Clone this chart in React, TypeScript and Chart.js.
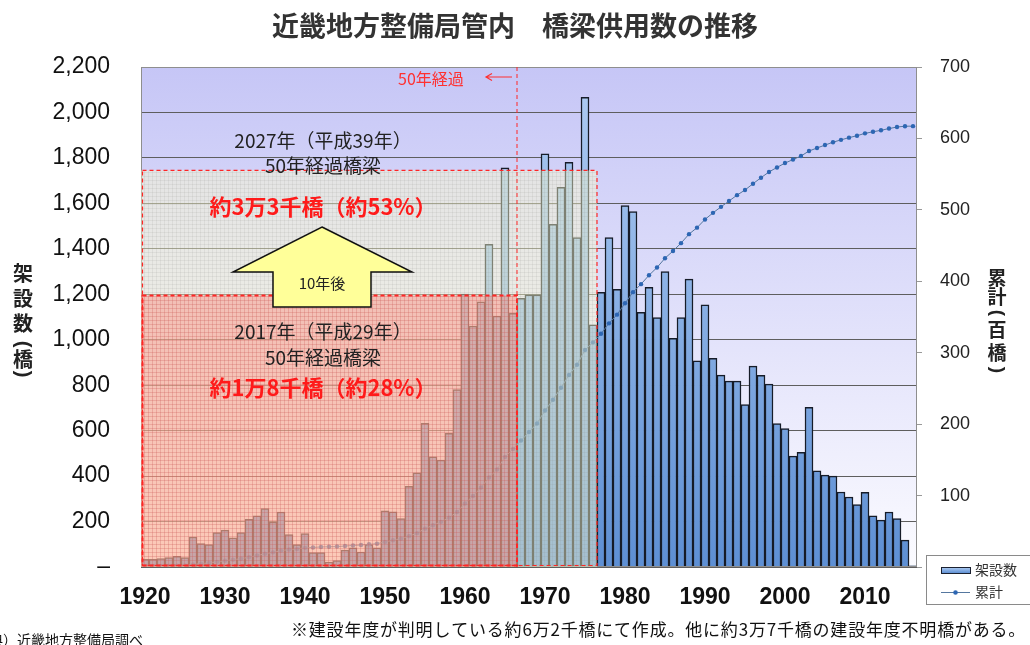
import React, { useEffect, useRef } from 'react';
import { Chart, registerables } from 'chart.js';

Chart.register(...registerables);

// ---- data ----
const YEARS = [
  1920, 1921, 1922, 1923, 1924, 1925, 1926, 1927, 1928, 1929,
  1930, 1931, 1932, 1933, 1934, 1935, 1936, 1937, 1938, 1939,
  1940, 1941, 1942, 1943, 1944, 1945, 1946, 1947, 1948, 1949,
  1950, 1951, 1952, 1953, 1954, 1955, 1956, 1957, 1958, 1959,
  1960, 1961, 1962, 1963, 1964, 1965, 1966, 1967, 1968, 1969,
  1970, 1971, 1972, 1973, 1974, 1975, 1976, 1977, 1978, 1979,
  1980, 1981, 1982, 1983, 1984, 1985, 1986, 1987, 1988, 1989,
  1990, 1991, 1992, 1993, 1994, 1995, 1996, 1997, 1998, 1999,
  2000, 2001, 2002, 2003, 2004, 2005, 2006, 2007, 2008, 2009,
  2010, 2011, 2012, 2013, 2014, 2015, 2016,
];

// 架設数（橋）
const BRIDGES_BUILT = [
  34, 34, 37, 41, 47, 41, 132, 103, 99, 151,
  162, 128, 151, 210, 225, 257, 198, 242, 143, 99,
  147, 63, 63, 22, 28, 74, 84, 66, 99, 84,
  247, 243, 213, 355, 414, 632, 485, 470, 588, 781,
  1201, 1060, 1167, 1420, 1104, 1756, 1116, 1182, 1197, 1197,
  1818, 1508, 1670, 1781, 1449, 2066, 1065, 1209, 1449, 1222,
  1590, 1564, 1121, 1231, 1097, 1300, 1006, 1097, 1267, 907,
  1153, 918, 844, 818, 818, 715, 884, 843, 805, 631,
  609, 488, 504, 702, 423, 404, 400, 330, 308, 275,
  328, 225, 206, 242, 213, 118, 5,
];

// 累計（百橋）
const CUMULATIVE_HUNDREDS = [
  0.3, 0.7, 1.1, 1.5, 1.9, 2.3, 3.7, 4.7, 5.7, 7.2,
  8.8, 10.1, 11.6, 13.7, 16.0, 18.5, 20.5, 22.9, 24.4, 25.3,
  26.8, 27.4, 28.1, 28.3, 28.6, 29.3, 30.2, 30.8, 31.8, 32.6,
  35.1, 37.5, 39.7, 43.2, 47.4, 53.7, 58.5, 63.2, 69.1, 76.9,
  88.9, 99.5, 111.2, 125.4, 136.4, 154.0, 165.2, 177.0, 188.9, 200.9,
  219.1, 234.2, 250.9, 268.7, 283.2, 303.8, 314.5, 326.6, 341.1, 353.3,
  369.2, 384.8, 396.0, 408.4, 419.3, 432.3, 442.4, 453.4, 466.0, 475.1,
  486.6, 495.8, 504.2, 512.4, 520.6, 527.8, 536.6, 545.0, 553.1, 559.4,
  565.5, 570.4, 575.4, 582.4, 586.6, 590.7, 594.7, 598.0, 601.1, 603.8,
  607.1, 609.3, 611.4, 613.8, 616.0, 617.1, 617.2,
];

const LEFT_MAX = 2200;
const LEFT_STEP = 200;
const RIGHT_MAX = 700;
const RIGHT_STEP = 100;

// annotation boxes (in data units)
const FIRST_YEAR_PAST_50_IN_2017 = 1967;
const FIRST_YEAR_PAST_50_IN_2027 = 1977;
const BOX_2017_TOP = 1195;
const BOX_2027_TOP = 1745;

const TITLE = '近畿地方整備局管内　橋梁供用数の推移';
const NOTE = '※建設年度が判明している約6万2千橋にて作成。他に約3万7千橋の建設年度不明橋がある。';
const SOURCE = '（出典）近畿地方整備局調べ';

const JP = "'Noto Sans CJK JP', 'Noto Sans', sans-serif";
const NUM = "'Liberation Sans', Arial, sans-serif";

function makePattern(ctx: CanvasRenderingContext2D, color: string) {
  const c = document.createElement('canvas');
  c.width = 4;
  c.height = 4;
  const p = c.getContext('2d')!;
  p.fillStyle = color;
  p.fillRect(0, 0, 4, 1);
  p.fillRect(0, 0, 1, 4);
  return ctx.createPattern(c, 'repeat');
}

function fitText(ctx: any, text: string, x: number, y: number, width: number) {
  ctx.letterSpacing = '0px';
  const w = ctx.measureText(text).width;
  const sp = (width - w) / text.length;
  ctx.letterSpacing = sp.toFixed(2) + 'px';
  ctx.fillText(text, x, y);
  ctx.letterSpacing = '0px';
}

function vertical(ctx: CanvasRenderingContext2D, items: [string, number][], x: number, font: string, color: string) {
  ctx.save();
  ctx.fillStyle = color;
  ctx.textAlign = 'center';
  ctx.textBaseline = 'middle';
  for (const [ch, y] of items) {
    if (ch === '(' || ch === ')') {
      ctx.save();
      ctx.translate(x, y);
      ctx.rotate(Math.PI / 2);
      ctx.font = font.replace(JP, NUM);
      ctx.fillText(ch, 0, 0);
      ctx.restore();
    } else {
      ctx.font = font;
      ctx.fillText(ch, x, y);
    }
  }
  ctx.restore();
}

const bgPlugin = {
  id: 'plotBg',
  beforeDraw(chart: any) {
    const { ctx, chartArea: a } = chart;
    const g = ctx.createLinearGradient(0, a.top, 0, a.bottom);
    g.addColorStop(0, '#c6c6f6');
    g.addColorStop(1, '#fbfbff');
    ctx.save();
    ctx.fillStyle = g;
    ctx.fillRect(a.left, a.top, a.right - a.left, a.bottom - a.top);
    ctx.restore();
  },
};

const overlayPlugin = {
  id: 'overlays',
  afterDatasetsDraw(chart: any) {
    const { ctx, chartArea: a, scales } = chart;
    const xs = scales.x;
    const ys = scales.y;
    const slot = (a.right - a.left) / YEARS.length;
    const edge = (yr: number) => xs.getPixelForValue(YEARS.indexOf(yr)) - slot / 2;
    const redR = edge(FIRST_YEAR_PAST_50_IN_2017);
    const grayR = edge(FIRST_YEAR_PAST_50_IN_2027);
    const redT = ys.getPixelForValue(BOX_2017_TOP);
    const grayT = ys.getPixelForValue(BOX_2027_TOP);

    ctx.save();
    // plot border
    ctx.strokeStyle = '#8e8e8e';
    ctx.lineWidth = 1;
    ctx.strokeRect(a.left + 0.5, a.top + 0.5, a.right - a.left - 1, a.bottom - a.top - 1);

    // gray box (2027)
    ctx.fillStyle = 'rgba(250,250,205,0.45)';
    ctx.fillRect(a.left, grayT, grayR - a.left, a.bottom - grayT);
    const gp = makePattern(ctx, 'rgba(140,140,130,0.12)');
    if (gp) {
      ctx.fillStyle = gp;
      ctx.fillRect(a.left, grayT, grayR - a.left, a.bottom - grayT);
    }
    // red box (2017)
    ctx.fillStyle = 'rgba(255,120,105,0.38)';
    ctx.fillRect(a.left, redT, redR - a.left, a.bottom - redT);
    const rp = makePattern(ctx, 'rgba(215,70,70,0.18)');
    if (rp) {
      ctx.fillStyle = rp;
      ctx.fillRect(a.left, redT, redR - a.left, a.bottom - redT);
    }

    // dashed borders
    ctx.strokeStyle = '#ff2626';
    ctx.setLineDash([4, 3]);
    ctx.lineWidth = 1.2;
    ctx.strokeRect(a.left + 1.5, grayT, grayR - a.left - 1.5, a.bottom - grayT - 1.5);
    ctx.lineWidth = 2;
    ctx.strokeRect(a.left + 1.5, redT, redR - a.left - 1.5, a.bottom - redT - 1.5);
    // 50-year line
    ctx.lineWidth = 1;
    ctx.beginPath();
    ctx.moveTo(redR, a.top);
    ctx.lineTo(redR, a.bottom);
    ctx.stroke();
    ctx.setLineDash([]);
    ctx.restore();
  },
  afterDraw(chart: any) {
    const { ctx } = chart;
    ctx.save();
    // title
    ctx.fillStyle = '#333';
    ctx.textAlign = 'center';
    ctx.textBaseline = 'middle';
    ctx.font = `bold 27px ${JP}`;
    ctx.fillText(TITLE, 515, 26);

    // axis titles
    vertical(ctx, [['架', 273], ['設', 298], ['数', 323], ['(', 344], ['橋', 359], [')', 374]], 23, `bold 20px ${JP}`, '#222');
    vertical(ctx, [['累', 278], ['計', 297], ['(', 313], ['百', 330], ['橋', 353], [')', 370]], 997, `bold 19px ${JP}`, '#222');

    // 50年経過 marker
    ctx.fillStyle = '#ff3030';
    ctx.font = `16px ${JP}`;
    ctx.textAlign = 'left';
    ctx.fillText('50年経過', 398, 79);
    ctx.strokeStyle = '#ff3030';
    ctx.lineWidth = 1.2;
    ctx.beginPath();
    ctx.moveTo(512, 77);
    ctx.lineTo(486, 77);
    ctx.moveTo(492, 73.5);
    ctx.lineTo(486, 77);
    ctx.lineTo(492, 80.5);
    ctx.stroke();

    // annotations
    ctx.textAlign = 'center';
    ctx.fillStyle = '#222';
    ctx.font = `19px ${JP}`;
    ctx.fillText('2027年（平成39年）', 323, 141);
    ctx.fillText('50年経過橋梁', 323, 166);
    ctx.fillText('2017年（平成29年）', 323, 332);
    ctx.fillText('50年経過橋梁', 323, 358);
    ctx.fillStyle = '#ff1a1a';
    ctx.font = `bold 22px ${JP}`;
    ctx.fillText('約3万3千橋（約53%）', 323, 207);
    ctx.fillText('約1万8千橋（約28%）', 323, 388);

    // arrow
    ctx.beginPath();
    ctx.moveTo(322, 227);
    ctx.lineTo(412, 272);
    ctx.lineTo(371, 272);
    ctx.lineTo(371, 307);
    ctx.lineTo(273, 307);
    ctx.lineTo(273, 272);
    ctx.lineTo(233, 272);
    ctx.closePath();
    ctx.fillStyle = '#ffff99';
    ctx.fill();
    ctx.strokeStyle = '#111';
    ctx.lineWidth = 1.5;
    ctx.stroke();
    ctx.fillStyle = '#222';
    ctx.font = `15px ${JP}`;
    ctx.fillText('10年後', 322, 283);

    // legend
    ctx.fillStyle = '#ffffff';
    ctx.fillRect(926, 555, 110, 49);
    ctx.strokeStyle = '#8a8a8a';
    ctx.lineWidth = 1;
    ctx.strokeRect(926.5, 555.5, 110, 49);
    const lg = ctx.createLinearGradient(0, 567, 0, 573);
    lg.addColorStop(0, '#b4d0f4');
    lg.addColorStop(1, '#5f90d4');
    ctx.fillStyle = lg;
    ctx.fillRect(941, 567, 29, 6);
    ctx.strokeStyle = '#1b2130';
    ctx.strokeRect(941.5, 567.5, 29, 6);
    ctx.strokeStyle = '#55779f';
    ctx.beginPath();
    ctx.moveTo(941, 592.5);
    ctx.lineTo(970, 592.5);
    ctx.stroke();
    ctx.fillStyle = '#2d66b3';
    ctx.beginPath();
    ctx.arc(955.5, 592.5, 2.3, 0, Math.PI * 2);
    ctx.fill();
    ctx.fillStyle = '#333';
    ctx.font = `14px ${JP}`;
    ctx.textAlign = 'left';
    ctx.fillText('架設数', 975, 570);
    ctx.fillText('累計', 975, 592);

    // footers
    ctx.fillStyle = '#111';
    ctx.font = `17px ${JP}`;
    ctx.textAlign = 'left';
    fitText(ctx, NOTE, 291, 630, 735);
    ctx.font = `14px ${JP}`;
    const w3 = ctx.measureText('（出典').width;
    ctx.fillText(SOURCE, 3 - w3, 640);
    ctx.restore();
  },
};

export default function App() {
  const ref = useRef<HTMLCanvasElement | null>(null);

  useEffect(() => {
    document.body.style.margin = '0';
    const canvas = ref.current;
    if (!canvas) return;
    const chart = new Chart(canvas, {
      type: 'bar',
      data: {
        labels: YEARS.map(String),
        datasets: [
          {
            type: 'line',
            label: '累計',
            data: CUMULATIVE_HUNDREDS,
            yAxisID: 'y2',
            borderColor: '#55779f',
            borderWidth: 1,
            pointRadius: 2.2,
            pointBackgroundColor: '#2d66b3',
            pointBorderWidth: 0,
            tension: 0,
            order: 0,
          } as any,
          {
            type: 'bar',
            label: '架設数',
            data: BRIDGES_BUILT,
            yAxisID: 'y',
            backgroundColor: (c: any) => {
              const ca = c.chart.chartArea;
              if (!ca) return '#8db3e2';
              const g = c.chart.ctx.createLinearGradient(0, ca.top, 0, ca.bottom);
              g.addColorStop(0, '#b0cdf3');
              g.addColorStop(1, '#5d8fd4');
              return g;
            },
            borderColor: '#161c28',
            borderWidth: { top: 1.5, left: 1.5, right: 1.5, bottom: 0 },
            barPercentage: 1,
            categoryPercentage: 1,
            order: 1,
          } as any,
        ],
      },
      options: {
        responsive: false,
        animation: false,
        devicePixelRatio: 1,
        layout: { padding: { top: 67, left: 0, right: 0, bottom: 0 } },
        plugins: {
          legend: { display: false },
          tooltip: { enabled: false },
          title: { display: false },
        },
        scales: {
          x: {
            type: 'category',
            offset: true,
            grid: { display: false, drawTicks: false },
            border: { display: false },
            ticks: {
              autoSkip: false,
              maxRotation: 0,
              minRotation: 0,
              padding: 17,
              color: '#111',
              font: { family: NUM, size: 23, weight: 'bold' },
              callback: (_v: any, i: number) => (YEARS[i] % 10 === 0 ? String(YEARS[i]) : ''),
            },
            afterFit: (s: any) => {
              s.height = 78;
            },
          },
          y: {
            position: 'left',
            min: 0,
            max: LEFT_MAX,
            grid: { color: '#5e5e5e', drawTicks: false },
            border: { display: false },
            ticks: {
              stepSize: LEFT_STEP,
              padding: 31,
              color: '#111',
              font: { family: NUM, size: 23 },
              callback: (v: any) => (v === 0 ? '–' : Number(v).toLocaleString('en-US')),
            },
            afterFit: (s: any) => {
              s.width = 141;
            },
          },
          y2: {
            position: 'right',
            min: 0,
            max: RIGHT_MAX,
            grid: { drawOnChartArea: false, drawTicks: true, tickLength: 5, tickColor: '#999' },
            border: { display: false },
            ticks: {
              stepSize: RIGHT_STEP,
              padding: 18,
              color: '#222',
              font: { family: NUM, size: 18 },
              callback: (v: any) => (v === 0 ? '' : String(v)),
            },
            afterFit: (s: any) => {
              s.width = 113;
            },
          },
        },
      } as any,
      plugins: [bgPlugin, overlayPlugin],
    });
    return () => chart.destroy();
  }, []);

  return (
    <div style={{ position: 'relative', width: 1030, height: 645, overflow: 'hidden', background: '#fff' }}>
      <canvas ref={ref} width={1030} height={645} style={{ display: 'block', width: 1030, height: 645 }} />
    </div>
  );
}
